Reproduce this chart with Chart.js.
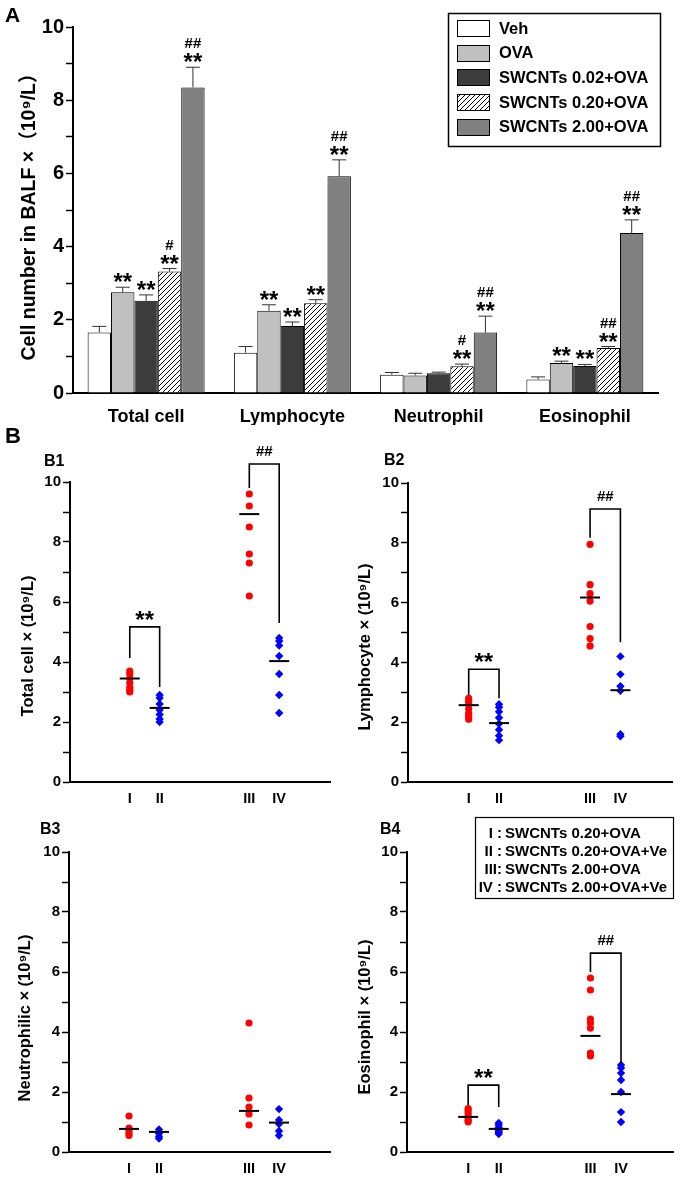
<!DOCTYPE html>
<html><head><meta charset="utf-8">
<script src="https://cdn.jsdelivr.net/npm/chart.js@4.4.0/dist/chart.umd.min.js"></script>
<style>
html,body{margin:0;padding:0;background:#fff;}
#wrap{position:relative;width:685px;height:1177px;overflow:hidden;background:#fff;}
canvas{position:absolute;}
.lbl{position:absolute;font-family:'Liberation Sans',Arial,sans-serif;font-weight:bold;color:#000;line-height:1;white-space:nowrap;}
</style></head><body>
<div id="wrap">
<canvas id="cA" width="685" height="425" style="left:0px;top:0px"></canvas>
<canvas id="cB1" width="342" height="370" style="left:0px;top:440px"></canvas>
<canvas id="cB2" width="343" height="370" style="left:342px;top:440px"></canvas>
<canvas id="cB3" width="342" height="367" style="left:0px;top:810px"></canvas>
<canvas id="cB4" width="343" height="367" style="left:342px;top:810px"></canvas>
<div class="lbl" style="left:5px;top:4px;font-size:21px">A</div>
<div class="lbl" style="left:5px;top:425px;font-size:22px">B</div>
<div class="lbl" style="left:44px;top:453px;font-size:16px">B1</div>
<div class="lbl" style="left:384px;top:452px;font-size:16px">B2</div>
<div class="lbl" style="left:40px;top:821px;font-size:16px">B3</div>
<div class="lbl" style="left:380px;top:821px;font-size:16px">B4</div>
</div>
<script>
// ---------- Panel A data ----------
const catsA = ['Total cell', 'Lymphocyte', 'Neutrophil', 'Eosinophil'];
const seriesNames = ['Veh', 'OVA', 'SWCNTs 0.02+OVA', 'SWCNTs 0.20+OVA', 'SWCNTs 2.00+OVA'];
const vehVals  = [1.65, 1.10, 0.50, 0.37];
const vehErr   = [0.17, 0.17, 0.06, 0.07];
const ovaVals  = [2.75, 2.25, 0.48, 0.82];
const ovaErr   = [0.14, 0.16, 0.06, 0.05];
const s002Vals = [2.52, 1.83, 0.54, 0.74];
const s002Err  = [0.16, 0.11, 0.03, 0.04];
const s020Vals = [3.32, 2.45, 0.73, 1.23];
const s020Err  = [0.08, 0.10, 0.06, 0.04];
const s200Vals = [8.35, 5.92, 1.65, 4.37];
const s200Err  = [0.55, 0.45, 0.45, 0.36];
const vehStars  = ['', '', '', ''];
const ovaStars  = ['**', '**', '', '**'];
const s002Stars = ['**', '**', '', '**'];
const s020Stars = ['**', '**', '**', '**'];
const s200Stars = ['**', '**', '**', '**'];
const noHash    = ['', '', '', ''];
const s020Hash  = ['#', '', '#', '##'];
const s200Hash  = ['##', '##', '##', '##'];
const yTicksA = [0, 2, 4, 6, 8, 10];

// ---------- Panel B data ----------
const groupLabels = ['I', 'II', 'III', 'IV'];
const groupX = [1, 2, 5, 6];
const b1I = [3.7, 3.6, 3.45, 3.3, 3.15, 3.05, 3.0];
const b1II = [2.9, 2.8, 2.6, 2.4, 2.25, 2.1, 2.0];
const b1III = [9.6, 9.2, 8.5, 7.6, 7.3, 6.2];
const b1IV = [4.8, 4.7, 4.55, 4.2, 3.6, 2.9, 2.3];
const b1Mean = [3.45, 2.47, 8.93, 4.03];
const b1BrA = [4.13, 5.17, 3.17];
const b1BrB = [9.8, 10.6, 5.3];

const b2I = [2.8, 2.7, 2.6, 2.45, 2.3, 2.2, 2.1];
const b2II = [2.6, 2.5, 2.35, 2.15, 1.95, 1.75, 1.55, 1.4];
const b2III = [7.95, 6.6, 6.3, 6.05, 5.2, 4.8, 4.55];
const b2IV = [4.2, 3.6, 3.2, 3.05, 1.6, 1.53];
const b2Mean = [2.57, 1.97, 6.17, 3.07];
const b2BrA = [2.9, 3.77, 2.8];
const b2BrB = [8.17, 9.13, 4.67];

const b3I = [1.2, 0.8, 0.72, 0.62, 0.55];
const b3II = [0.75, 0.62, 0.52, 0.45];
const b3III = [4.3, 1.8, 1.5, 1.27, 0.9];
const b3IV = [1.43, 1.07, 0.93, 0.7, 0.55];
const b3Mean = [0.77, 0.67, 1.37, 0.98];

const b4I = [1.45, 1.38, 1.3, 1.2, 1.1, 1.05, 1.0];
const b4II = [0.97, 0.9, 0.82, 0.75, 0.7, 0.65, 0.6];
const b4III = [5.8, 5.4, 4.43, 4.3, 4.13, 3.3, 3.2];
const b4IV = [2.9, 2.8, 2.63, 2.4, 2.0, 1.33, 1.0];
const b4Mean = [1.17, 0.77, 3.87, 1.93];
const b4BrA = [1.57, 2.23, 1.5];
const b4BrB = [6.0, 6.63, 2.97];

const legendB = [['I', 'SWCNTs 0.20+OVA'], ['II', 'SWCNTs 0.20+OVA+Ve'], ['III', 'SWCNTs 2.00+OVA'], ['IV', 'SWCNTs 2.00+OVA+Ve']];

// ---------- common ----------
const F = "'Liberation Sans', Arial, 'Noto Sans CJK SC', sans-serif";
Chart.defaults.font.family = F;
Chart.defaults.color = '#000';

const yTitle = {
  id: 'yTitle',
  afterDraw(chart, args, o) {
    const ctx = chart.ctx;
    ctx.save();
    ctx.translate(o.x, o.y);
    ctx.rotate(-Math.PI / 2);
    ctx.fillStyle = '#000';
    ctx.font = 'bold ' + o.size + 'px ' + F;
    ctx.textAlign = 'center';
    ctx.textBaseline = 'middle';
    ctx.fillText(o.text, 0, 0);
    ctx.restore();
  }
};

// ---------- Panel A ----------
const ctxA = document.getElementById('cA').getContext('2d');
function hatch(ctx) {
  const c = document.createElement('canvas');
  c.width = 5; c.height = 5;
  const g = c.getContext('2d');
  g.fillStyle = '#fff'; g.fillRect(0, 0, 5, 5);
  g.strokeStyle = '#000'; g.lineWidth = 1;
  g.beginPath();
  g.moveTo(-1, 6); g.lineTo(6, -1);
  g.moveTo(-1, 1); g.lineTo(1, -1);
  g.moveTo(4, 6); g.lineTo(6, 4);
  g.stroke();
  return ctx.createPattern(c, 'repeat');
}
const fills = ['#ffffff', '#c0c0c0', '#3c3c3c', hatch(ctxA), '#808080'];
const valsA = [vehVals, ovaVals, s002Vals, s020Vals, s200Vals];
const errsA = [vehErr, ovaErr, s002Err, s020Err, s200Err];
const starsA = [vehStars, ovaStars, s002Stars, s020Stars, s200Stars];
const hashA = [noHash, noHash, noHash, s020Hash, s200Hash];

const annotA = {
  id: 'annotA',
  afterDatasetsDraw(chart) {
    const ctx = chart.ctx, ys = chart.scales.y;
    chart.data.datasets.forEach((ds, i) => {
      const meta = chart.getDatasetMeta(i);
      meta.data.forEach((el, j) => {
        const yT = ys.getPixelForValue(ds.data[j] + ds.errs[j]);
        ctx.save();
        ctx.strokeStyle = '#333'; ctx.lineWidth = 1;
        ctx.beginPath();
        ctx.moveTo(el.x, el.y); ctx.lineTo(el.x, yT);
        ctx.moveTo(el.x - 7, yT); ctx.lineTo(el.x + 7, yT);
        ctx.stroke();
        ctx.fillStyle = '#000'; ctx.textAlign = 'center'; ctx.textBaseline = 'alphabetic';
        if (ds.stars[j]) { ctx.font = 'bold 24px ' + F; ctx.fillText(ds.stars[j], el.x, yT + 3); }
        if (ds.hashes[j]) { ctx.font = 'bold 15px ' + F; ctx.fillText(ds.hashes[j], el.x, yT - 19); }
        ctx.restore();
      });
    });
  }
};
const legendA = {
  id: 'legendA',
  afterDraw(chart) {
    const ctx = chart.ctx;
    ctx.save();
    ctx.strokeStyle = '#000'; ctx.lineWidth = 1.5;
    ctx.strokeRect(448.5, 13.5, 212, 133);
    chart.data.datasets.forEach((ds, i) => {
      const cy = 28 + i * 24.7;
      ctx.fillStyle = ds.backgroundColor;
      ctx.fillRect(457, Math.round(cy - 8), 33, 17);
      ctx.lineWidth = 1; ctx.strokeStyle = '#000';
      ctx.strokeRect(457.5, Math.round(cy - 8) + 0.5, 32, 16);
      ctx.fillStyle = '#000';
      ctx.font = 'bold 16.5px ' + F;
      ctx.textAlign = 'left'; ctx.textBaseline = 'middle';
      ctx.fillText(ds.label, 499, cy + 1);
    });
    ctx.restore();
  }
};

new Chart(ctxA, {
  type: 'bar',
  data: {
    labels: catsA,
    datasets: seriesNames.map((n, i) => ({
      label: n, data: valsA[i], errs: errsA[i], stars: starsA[i], hashes: hashA[i],
      backgroundColor: fills[i], borderColor: '#000', borderWidth: 1,
      barPercentage: 1, categoryPercentage: 0.8
    }))
  },
  options: {
    responsive: false, animation: false, events: [],
    layout: { padding: { top: 27, right: 27, left: 0, bottom: 0 } },
    plugins: { legend: { display: false }, tooltip: { enabled: false },
      yTitle: { text: 'Cell number in BALF ×（10⁹/L）', x: 30, y: 212, size: 19.5 } },
    scales: {
      x: {
        grid: { display: false },
        border: { display: true, color: '#000', width: 2 },
        ticks: { font: { size: 18, weight: 'bold' }, color: '#000', padding: 5 },
        afterFit: s => { s.height = 32; }
      },
      y: {
        min: 0, max: 10,
        grid: { display: true, drawOnChartArea: false, drawTicks: true, tickLength: 7, color: '#000', tickWidth: 1.5 },
        border: { display: true, color: '#000', width: 2 },
        ticks: { stepSize: 1, autoSkip: false, padding: 2, font: { size: 20, weight: 'bold' }, color: '#000',
          callback: v => yTicksA.includes(v) ? String(v) : '' },
        afterFit: s => { s.width = 73; }
      }
    }
  },
  plugins: [annotA, legendA, yTitle]
});

// ---------- Panel B ----------
const bracketLabel = {
  id: 'bracketLabel',
  afterDatasetsDraw(chart) {
    const ctx = chart.ctx, xs = chart.scales.x, ys = chart.scales.y;
    chart.data.datasets.forEach(ds => {
      if (!ds.bracketText) return;
      const x = (xs.getPixelForValue(ds.data[1].x) + xs.getPixelForValue(ds.data[2].x)) / 2;
      const y = ys.getPixelForValue(ds.data[1].y);
      ctx.save();
      ctx.fillStyle = '#000'; ctx.textAlign = 'center'; ctx.textBaseline = 'alphabetic';
      if (ds.bracketText === '**') { ctx.font = 'bold 24px ' + F; ctx.fillText('**', x, y + 1); }
      else { ctx.font = 'bold 15px ' + F; ctx.fillText(ds.bracketText, x, y - 8); }
      ctx.restore();
    });
  }
};
const legendBPlugin = {
  id: 'legendB',
  afterDraw(chart, args, o) {
    if (!o.show) return;
    const ctx = chart.ctx;
    ctx.save();
    ctx.strokeStyle = '#000'; ctx.lineWidth = 1.2;
    ctx.strokeRect(133.5, 7.5, 198, 81);
    ctx.fillStyle = '#000';
    ctx.font = 'bold 15px ' + F;
    ctx.textBaseline = 'middle';
    legendB.forEach((r, i) => {
      const cy = 24 + i * 18;
      ctx.textAlign = 'right'; ctx.fillText(r[0] + (r[0].length < 3 ? ' :' : ':'), 160, cy);
      ctx.textAlign = 'left'; ctx.fillText(r[1], 163, cy);
    });
    ctx.restore();
  }
};

function pts(x, arr) { return arr.map(v => ({ x: x, y: v })); }
function bracket(x1, x2, br, text) {
  return {
    type: 'line', showLine: true, order: 1, clip: false, bracketText: text,
    data: [{ x: x1, y: br[0] }, { x: x1, y: br[1] }, { x: x2, y: br[1] }, { x: x2, y: br[2] }],
    borderColor: '#000', borderWidth: 1.6, pointRadius: 0, fill: false, tension: 0
  };
}
function makeB(id, groups, means, brackets, title, tx, ty, layout, showLegend) {
  const red = '#ff0000', blue = '#0000ff';
  const datasets = [
    { data: means.map((m, i) => ({ x: groupX[i], y: m })), order: 0,
      pointStyle: 'line', pointRadius: 10, pointBorderWidth: 2, pointBorderColor: '#000', pointBackgroundColor: '#000', showLine: false }
  ];
  groups.forEach((g, i) => {
    const isRed = i % 2 === 0;
    datasets.push({ data: pts(groupX[i], g), order: 2, showLine: false,
      pointStyle: isRed ? 'circle' : 'rectRot', pointRadius: isRed ? 3.6 : 4.2,
      pointBackgroundColor: isRed ? red : blue, pointBorderColor: isRed ? red : blue, pointBorderWidth: 0 });
  });
  brackets.forEach(b => datasets.push(bracket(b[0], b[1], b[2], b[3])));
  new Chart(document.getElementById(id).getContext('2d'), {
    type: 'scatter',
    data: { datasets },
    options: {
      responsive: false, animation: false, events: [],
      layout: { padding: { top: layout.top, right: layout.right, left: 0, bottom: 0 } },
      plugins: { legend: { display: false }, tooltip: { enabled: false },
        yTitle: { text: title, x: tx, y: ty, size: 16.5 }, legendB: { show: showLegend } },
      scales: {
        x: {
          type: 'linear', min: -1, max: 7.7,
          grid: { display: false },
          border: { display: true, color: '#000', width: 2 },
          afterBuildTicks: s => { s.ticks = groupX.map(v => ({ value: v })); },
          ticks: { autoSkip: false, maxRotation: 0, padding: 0, font: { size: 14.5, weight: 'bold' }, color: '#000',
            callback: v => groupLabels[groupX.indexOf(v)] || '' },
          afterFit: s => { s.height = layout.xh; }
        },
        y: {
          min: 0, max: 10,
          grid: { display: true, drawOnChartArea: false, drawTicks: true, tickLength: 7, color: '#000', tickWidth: 1.5 },
          border: { display: true, color: '#000', width: 2 },
          ticks: { stepSize: 1, autoSkip: false, padding: 2, font: { size: 15, weight: 'bold' }, color: '#000',
            callback: v => (v % 2 === 0 ? String(v) : '') },
          afterFit: s => { s.width = layout.yw; }
        }
      }
    },
    plugins: [bracketLabel, legendBPlugin, yTitle]
  });
}

makeB('cB1', [b1I, b1II, b1III, b1IV], b1Mean, [[1, 2, b1BrA, '**'], [5, 6, b1BrB, '##']],
  'Total cell × (10⁹/L)', 28, 206, { top: 42, right: 7, xh: 28, yw: 70 }, false);
makeB('cB2', [b2I, b2II, b2III, b2IV], b2Mean, [[1, 2, b2BrA, '**'], [5, 6, b2BrB, '##']],
  'Lymphocyte × (10⁹/L)', 23, 207, { top: 43, right: 13, xh: 28, yw: 66 }, false);
makeB('cB3', [b3I, b3II, b3III, b3IV], b3Mean, [],
  'Neutrophilic × (10⁹/L)', 25, 208, { top: 42, right: 7, xh: 25, yw: 69 }, false);
makeB('cB4', [b4I, b4II, b4III, b4IV], b4Mean, [[1, 2, b4BrA, '**'], [5, 6, b4BrB, '##']],
  'Eosinophil × (10⁹/L)', 23, 207, { top: 42, right: 12, xh: 25, yw: 65 }, true);
</script>
</body></html>
